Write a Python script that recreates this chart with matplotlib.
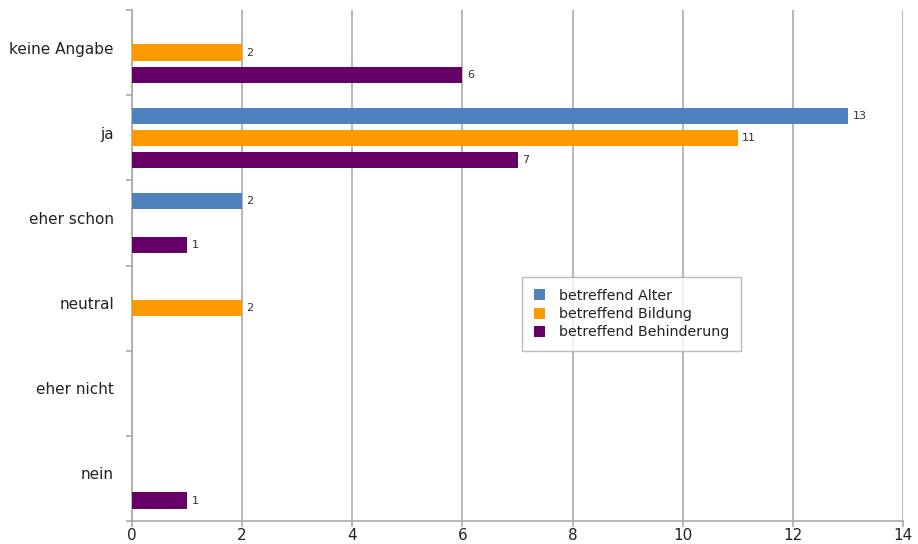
import numpy as np
import matplotlib
matplotlib.use("Agg")
import matplotlib.pyplot as plt
import matplotlib.transforms as mtransforms

categories = ["nein", "eher nicht", "neutral", "eher schon", "ja", "keine Angabe"]
series = ["betreffend Alter", "betreffend Bildung", "betreffend Behinderung"]
alter = [0, 0, 0, 2, 13, 0]
bildung = [0, 0, 2, 0, 11, 2]
behinderung = [1, 0, 0, 1, 7, 6]
colors = ["#4F81BD", "#FF9900", "#660066"]

plt.rcParams["font.family"] = ["DejaVu Sans"]

fig = plt.figure(figsize=(9.18, 5.44), dpi=100)
ax = fig.add_axes([132 / 918, 23 / 544, 771 / 918, 511 / 544])

y = np.arange(len(categories))
offsets = [0.26, 0.0, -0.26]
for vals, off, col, name in zip([alter, bildung, behinderung], offsets, colors, series):
    bars = ax.barh(y + off, vals, height=0.19, color=col, label=name, zorder=3)
    for b, v in zip(bars, vals):
        if v:
            ax.text(v + 0.08, b.get_y() + b.get_height() / 2, str(v),
                    va="center", ha="left", fontsize=8, color="#333333")

ax.set_xlim(0, 14)
ax.set_ylim(-0.5, len(categories) - 0.5)
ax.set_xticks(range(0, 15, 2))
ax.set_yticks(y)
ax.set_yticklabels(categories)
ax.set_yticks(np.arange(-0.5, len(categories), 1), minor=True)
ax.tick_params(axis="y", which="major", length=0, pad=13, labelsize=11, labelcolor="#222222")
ax.tick_params(axis="y", which="minor", length=4, color="#AAAAAA", width=1.2)
ax.tick_params(axis="x", length=4, color="#AAAAAA", width=1.2, pad=1,
               labelsize=11, labelcolor="#222222")
ax.grid(axis="x", color="#AAAAAA", linewidth=1.2, zorder=0)
for s in ["top", "right"]:
    ax.spines[s].set_visible(False)
for s in ["left", "bottom"]:
    ax.spines[s].set_color("#AAAAAA")
    ax.spines[s].set_linewidth(1.2)

# category labels sit a little above the group centre
shift = mtransforms.ScaledTranslation(0, 5 / 100, fig.dpi_scale_trans)
for lbl in ax.get_yticklabels():
    lbl.set_transform(lbl.get_transform() + shift)

leg = ax.legend(loc="lower left", bbox_to_anchor=(0.506, 0.333), borderaxespad=0,
                frameon=True, fancybox=False, fontsize=10.3, handlelength=0.8,
                handleheight=0.8, borderpad=0.8, labelspacing=0.3, handletextpad=1.0)
leg.get_frame().set_edgecolor("#AAAAAA")
leg.get_frame().set_linewidth(1.0)
for t in leg.get_texts():
    t.set_color("#222222")

fig.savefig("out.png", dpi=100)
